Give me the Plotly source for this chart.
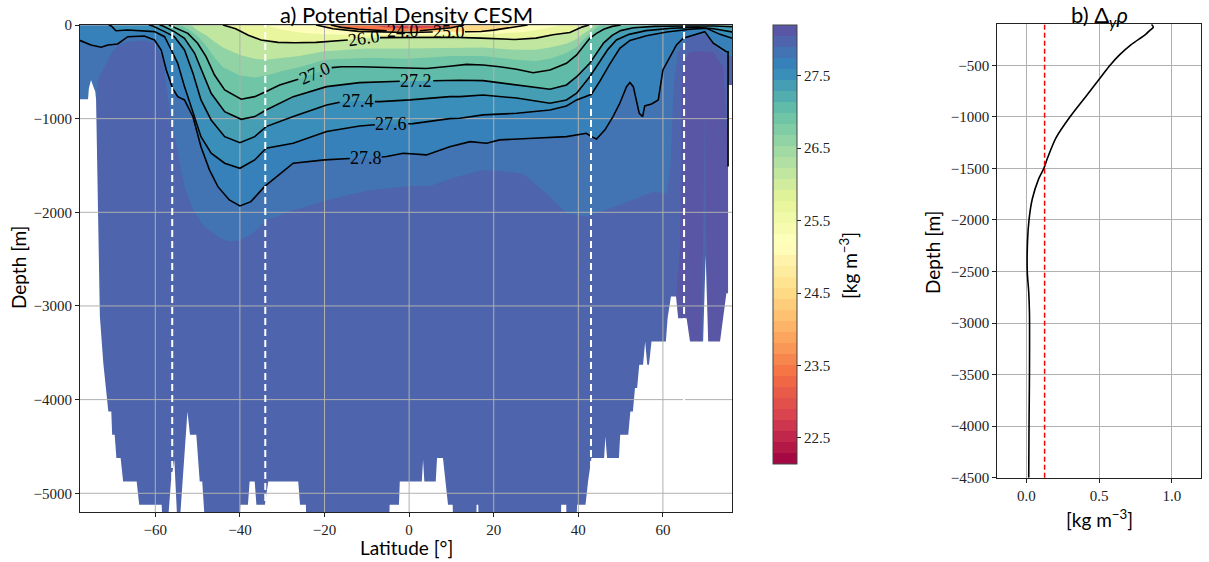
import plotly.graph_objects as go
import plotly.colors as pc

W, H = 1209, 562
SERIF = "Liberation Serif"
SANS = "Lato"
INK = "#222222"
GRID = "#b0b0b0"

# ---------------------------------------------------------------- axes limits
LAT_MIN, LAT_MAX = -77.8, 76.4
DEPTH_MIN, DEPTH_MAX = -5200, 0
LAT_TICKS = [-60, -40, -20, 0, 20, 40, 60]
DEPTH_TICKS = [0, -1000, -2000, -3000, -4000, -5000]

# colour levels of the filled density section
CB_MIN, CB_MAX, N_BANDS = 22.14, 28.2, 40
CB_TICKS = [22.5, 23.5, 24.5, 25.5, 26.5, 27.5]

# ------------------------------------------------ isopycnal depths (lat, m)
SIG_230 = [(-79, 0), (-9, 0), (-6, -25), (-2, -35), (3, -35), (7, -25), (10, 0), (77, 0)]
SIG_240 = [(-79, 0), (-18.5, 0), (-16, -25), (-12, -45), (-8, -55), (-5.3, -62), (-1.5, -64),
           (2.5, -62), (6, -50), (10, -30), (13, 0), (77, 0)]
SIG_250 = [(-79, 0), (-22, 0), (-18, -40), (-12, -68), (-5, -78), (0, -80), (5.6, -75), (9.4, -72),
           (13.2, -72), (17, -70), (20, -55), (24, -25), (28, 0), (77, 0)]
SIG_255 = [(-79, 0), (-34, 0), (-30, -50), (-25, -85), (-20, -100), (-10, -110), (0, -105),
           (10, -100), (20, -95), (27, -75), (32, -40), (36, 0), (77, 0)]
SIG_260 = [(-79, 0), (-44, 0), (-41, -40), (-38, -110), (-35, -160), (-31, -185), (-27, -190),
           (-22, -185), (-17, -170), (-14.5, -160), (-10.7, -142), (-6.9, -135), (-3, -135),
           (0, -135), (5, -133), (10, -130), (17, -140), (25, -155), (30, -140), (34, -105),
           (38, -80), (41, -20), (42.5, 0), (77, 0)]
SIG_264 = [(-79, 0), (-51.5, 0), (-50, -60), (-48, -110), (-46, -180), (-44, -240), (-40, -320),
           (-36.5, -360), (-33.8, -370), (-30, -350), (-26, -330), (-20, -280), (-10, -250),
           (0, -250), (10, -240), (17.5, -240), (25, -265), (30, -265), (33.3, -240), (37.2, -200),
           (39.6, -150), (41.1, -95), (42.7, -50), (44, 0), (77, 0)]
SIG_267 = [(-79, 0), (-54, 0), (-52, -50), (-50, -120), (-48, -220), (-46, -350), (-44, -450),
           (-40, -540), (-36.5, -560), (-33.8, -540), (-30, -490), (-26, -450), (-20, -370),
           (-10, -350), (0, -360), (10, -330), (17.5, -330), (25, -370), (30, -385), (33.3, -360),
           (37.2, -300), (39.6, -235), (41.1, -165), (42.7, -95), (44.3, -30), (45.3, 0), (77, 0)]
SIG_270 = [(-79, 0), (-56.8, 0), (-55.5, -25), (-52.3, -89), (-50.0, -195), (-48.0, -338),
           (-46.0, -534), (-43.6, -694), (-39.7, -793), (-36.5, -765), (-33.8, -711),
           (-30.6, -640), (-26.2, -580), (-22.2, -516), (-18.3, -455), (-16, -445), (-11.7, -445),
           (-3.8, -455), (4.1, -465), (9.6, -440), (13.6, -420), (17.5, -427), (21.4, -445),
           (25.4, -473), (29.3, -509), (33.3, -480), (37.2, -409), (39.6, -320), (41.1, -231),
           (42.7, -142), (44.3, -89), (46.0, -45), (48.0, -15), (50.0, 0), (77, 0)]
SIG_272 = [(-79, 0), (-59, 0), (-58.2, -11), (-55.5, -71), (-53.1, -142), (-50.7, -302),
           (-48.8, -516), (-46.8, -729), (-43.6, -925), (-39.7, -1007), (-36.5, -978),
           (-33.8, -907), (-27.4, -765), (-19.5, -658), (-11.7, -615), (-3.8, -605), (-2.2, -600),
           (1.7, -598), (5.7, -596), (9.6, -590), (12, -590), (17.5, -594), (25.4, -640),
           (33.3, -686), (37.2, -640), (39.6, -552), (42.7, -409), (44.3, -302), (46, -190),
           (48, -110), (50, -60), (53, -30), (58, -15), (65, -10), (72, -10), (77, -20)]
SIG_274 = [(-79, 0), (-61.5, 0), (-60.6, -11), (-57.8, -71), (-55.5, -125), (-53.1, -267),
           (-51.1, -516), (-49.2, -800), (-46.8, -1014), (-43.6, -1192), (-40.0, -1256),
           (-36.5, -1192), (-33.8, -1085), (-27.4, -978), (-19.5, -854), (-16.4, -825),
           (-12.2, -811), (-8.1, -818), (-6.9, -818), (0.2, -800), (9.6, -765), (12, -765),
           (17.5, -747), (25.4, -780), (33.3, -836), (37.2, -800), (39.6, -729), (42.7, -552),
           (45, -400), (47, -260), (49, -160), (52, -100), (56, -60), (62, -35), (68, -25),
           (72, -40), (77, -80)]
SIG_276 = [(-79, 0), (-71, 0), (-70.4, -11), (-69.3, -61), (-66.5, -53), (-60.2, -71),
           (-57.8, -125), (-56.2, -267), (-54.7, -409), (-53.1, -658), (-51.1, -943),
           (-49.2, -1192), (-46.8, -1369), (-43.6, -1476), (-40.0, -1530), (-36.5, -1441),
           (-33.8, -1316), (-27.4, -1263), (-19.5, -1138), (-11.7, -1078), (-8.1, -1065),
           (-4.2, -1057), (-0.2, -1055), (0.9, -1053), (9.6, -1000), (12, -995), (17.5, -960),
           (25.4, -943), (33.3, -907), (37.2, -864), (39.6, -800), (43.1, -740), (45.1, -600),
           (47.4, -420), (49.8, -250), (52.2, -165), (56.1, -115), (60.9, -75), (66.4, -45),
           (70.3, -35), (73.5, -100), (77, -150)]
SIG_278 = [(-79, -160), (-77.7, -167), (-75.2, -213), (-72.8, -238), (-71.2, -213), (-68.9, -203),
           (-66.5, -125), (-62.6, -117), (-60.2, -160), (-58.6, -267), (-57.4, -480),
           (-55.9, -676), (-54.7, -765), (-53.1, -800), (-51.1, -979), (-49.2, -1299),
           (-47.2, -1547), (-45.2, -1726), (-42.5, -1868), (-40.0, -1932), (-37.4, -1886),
           (-34.2, -1726), (-27.4, -1476), (-20, -1440), (-14.0, -1425), (-10.3, -1420),
           (-6.5, -1410), (-5.3, -1405), (-1.4, -1370), (4.1, -1387), (9.6, -1299), (14.4, -1245),
           (18.3, -1263), (21.4, -1227), (29.3, -1209), (37.2, -1192), (41.9, -1156),
           (43.1, -1192), (44.3, -1217), (46.3, -1120), (48.2, -978), (49.8, -836), (51.4, -658),
           (52.2, -615), (53.0, -658), (53.8, -836), (54.4, -943), (55.2, -978), (55.7, -864),
           (57.3, -843), (58.9, -800), (60.0, -480), (61.6, -338), (63.2, -213), (64.8, -142),
           (67.1, -107), (69.9, -71), (71.9, -195), (75.0, -285), (75.4, -285), (75.4, -1512)]
SIG_279 = [(-79, -800), (-74.0, -793), (-73.6, -587), (-72.4, -480), (-70.4, -302), (-68.9, -224),
           (-66.5, -178), (-62.6, -167), (-60.2, -189), (-58.2, -374), (-57.4, -658),
           (-56.2, -1014), (-54.7, -1369), (-53.1, -1726), (-51.1, -1974), (-48.4, -2152),
           (-45.2, -2259), (-42.9, -2312), (-40, -2300), (-36.9, -2223), (-33.7, -2081),
           (-28, -1990), (-20, -1880), (-10, -1770), (0, -1720), (5, -1720), (10, -1640),
           (17, -1550), (22, -1560), (27, -1590), (32.5, -1800), (37.2, -2010), (42, -2045),
           (46.7, -1974), (52.2, -1880), (57.7, -1780), (60.9, -1800), (61.8, -1500), (62.5, -700),
           (63.5, -300), (66, -140), (70, -100), (73, -260), (75.4, -330), (77, -330)]
SIG_2805 = [(60.5, -5300), (61.5, -3400), (62.5, -3000), (63.2, -2860), (64.0, -2400),
            (64.3, -1500), (64.3, -700), (64.8, -420), (66.0, -300), (68.0, -280), (71.9, -290),
            (74.2, -445), (75.0, -979), (75.4, -1600), (77, -1600)]
# lighter tongue reaching up inside the densest column (closed outline)
SIG_2805_TONGUE = [(69.1, -3400), (69.4, -2400), (69.9, -900), (70.3, -2400), (70.7, -3400)]

# sea floor along the section (lat, m)
BOTTOM = [(-79.0, -793), (-75.9, -793), (-75.7, -676), (-75.2, -587), (-74.5, -676), (-74.2, -711),
          (-74.0, -793), (-73.7, -1547), (-73.5, -2401), (-73.1, -3113), (-72.3, -3607),
          (-71.5, -4002), (-71.1, -4127), (-70.4, -4127), (-70.2, -4376), (-69.6, -4376),
          (-69.2, -4624), (-68.2, -4624), (-67.6, -4874), (-64.4, -4874), (-63.8, -5123),
          (-58.5, -5123), (-58.3, -5300), (-57.0, -5300), (-56.3, -4874), (-55.5, -4643),
          (-54.8, -5300), (-54.2, -5300), (-52.4, -4127), (-51.8, -4376), (-50.3, -4376),
          (-49.5, -4874), (-48.9, -4874), (-48.3, -5300), (-40.1, -5300), (-39.9, -5123),
          (-38.1, -5123), (-37.7, -4874), (-36.5, -4874), (-36.1, -5123), (-34.1, -5123),
          (-33.3, -4874), (-26.2, -4874), (-25.8, -5123), (-24.4, -5123), (-24.3, -5300),
          (-4.7, -5300), (-4.6, -5123), (-2.4, -5123), (-2.2, -4874), (3.0, -4874), (3.3, -4643),
          (3.6, -4874), (6.3, -4874), (6.6, -4624), (8.0, -4624), (8.6, -4874), (9.2, -5123),
          (10.3, -5123), (10.4, -5300), (15.9, -5300), (15.95, -5123), (16.35, -5123),
          (16.4, -5300), (35.9, -5300), (35.95, -5123), (37.15, -5123), (37.2, -5300),
          (39.6, -5300), (39.7, -5123), (41.7, -5123), (42.3, -4874), (43.1, -4624),
          (46.1, -4624), (46.4, -4393), (46.8, -4624), (49.6, -4624), (49.9, -4376),
          (51.8, -4376), (52.3, -4127), (52.9, -4127), (53.4, -3877), (53.9, -3877),
          (54.4, -3628), (55.3, -3628), (55.8, -3380), (56.3, -3628), (56.7, -3628),
          (57.3, -3380), (60.7, -3380), (61.1, -3131), (61.9, -2900), (63.1, -2900),
          (63.6, -3131), (65.6, -3131), (66.4, -3380), (69.5, -3380), (70.1, -2455),
          (70.7, -3380), (73.5, -3380), (75.0, -2863), (75.4, -2863), (75.4, -640), (77.0, -640)]

# filled layers: lower bound of each density class and its boundary
LAYERS = [(23.0, SIG_230), (24.0, SIG_240), (25.0, SIG_250), (25.5, SIG_255), (26.0, SIG_260),
          (26.4, SIG_264), (26.7, SIG_267), (27.0, SIG_270), (27.2, SIG_272), (27.4, SIG_274),
          (27.6, SIG_276), (27.8, SIG_278), (27.9, SIG_279), (28.05, SIG_2805)]
SURFACE_CLASS = 22.8
TONGUE_CLASS = 27.975

# labelled contours: level, profile, label lat, label depth, gap (lat), text angle
CONTOURS = [(24.0, SIG_240, -1.5, -64, (-5.3, 2.5), 0),
            (25.0, SIG_250, 9.4, -72, (5.6, 13.2), 0),
            (26.0, SIG_260, -10.7, -142, (-14.5, -6.9), -8),
            (27.0, SIG_270, -22.2, -516, (-26.2, -18.3), -24),
            (27.2, SIG_272, 1.7, -598, (-2.2, 5.7), 0),
            (27.4, SIG_274, -12.2, -811, (-16.4, -8.1), 0),
            (27.6, SIG_276, -4.2, -1057, (-8.1, -0.2), 0),
            (27.8, SIG_278, -10.3, -1420, (-14.0, -6.5), 0)]

# section boundaries
SECTION_LATS = [-56, -34, 43, 65]

# ------------------------------------------------ panel b: meridional density difference
DRHO_DEPTH = [-105, -130, -160, -200, -300, -400, -500, -600, -800, -1000, -1200, -1400, -1500,
              -1600, -1800, -2000, -2200, -2500, -2700, -2900, -3500, -4000, -4500]
DRHO = [0.86, 0.872, 0.85, 0.82, 0.72, 0.64, 0.575, 0.52, 0.41, 0.30, 0.205, 0.145, 0.12,
        0.085, 0.04, 0.018, 0.008, 0.006, 0.016, 0.021, 0.021, 0.018, 0.016]
DRHO_THRESHOLD = 0.125
B_X_RANGE = [-0.2, 1.2]
B_Y_RANGE = [-4500, -100]
B_X_TICKS = [0.0, 0.5, 1.0]
B_Y_TICKS = [-500, -1000, -1500, -2000, -2500, -3000, -3500, -4000, -4500]


def band_color(value):
    idx = int((value - CB_MIN) / (CB_MAX - CB_MIN) * N_BANDS)
    idx = min(max(idx, 0), N_BANDS - 1)
    return pc.sample_colorscale(pc.diverging.Spectral, [(idx + 0.5) / N_BANDS])[0]


def stepped_scale():
    cols = pc.sample_colorscale(pc.diverging.Spectral, [(i + 0.5) / N_BANDS for i in range(N_BANDS)])
    scale = []
    for i, c in enumerate(cols):
        scale.append([i / N_BANDS, c])
        scale.append([(i + 1) / N_BANDS, c])
    return scale


def fmt(v, nd=0):
    s = f"{abs(v):.{nd}f}"
    return ("\u2212" + s) if v < 0 else s


def polygon(x, y, color):
    return go.Scatter(x=x, y=y, fill="toself", fillcolor=color, mode="lines",
                      line=dict(width=0), hoverinfo="skip", showlegend=False)


fig = go.Figure()

# background class (lightest water) over the whole section
fig.add_trace(polygon([LAT_MIN - 2, LAT_MAX + 2, LAT_MAX + 2, LAT_MIN - 2],
                      [DEPTH_MAX + 50, DEPTH_MAX + 50, DEPTH_MIN - 200, DEPTH_MIN - 200],
                      band_color(SURFACE_CLASS)))

# each denser class fills everything below its isopycnal
for i, (level, prof) in enumerate(LAYERS):
    upper = LAYERS[i + 1][0] if i + 1 < len(LAYERS) else CB_MAX
    lats = [p[0] for p in prof]
    deps = [p[1] for p in prof]
    fig.add_trace(polygon(lats + [lats[-1], lats[0]], deps + [DEPTH_MIN - 200, DEPTH_MIN - 200],
                          band_color(0.5 * (level + upper))))

fig.add_trace(polygon([p[0] for p in SIG_2805_TONGUE], [p[1] for p in SIG_2805_TONGUE],
                      band_color(TONGUE_CLASS)))

# land below the sea floor
b_lat = [p[0] for p in BOTTOM]
b_dep = [p[1] for p in BOTTOM]
fig.add_trace(polygon(b_lat + [b_lat[-1], b_lat[0]], b_dep + [DEPTH_MIN - 300, DEPTH_MIN - 300],
                      "white"))

# grid over the section
gx, gy = [], []
for t in LAT_TICKS:
    gx += [t, t, None]
    gy += [DEPTH_MIN, DEPTH_MAX, None]
for t in DEPTH_TICKS:
    gx += [LAT_MIN, LAT_MAX, None]
    gy += [t, t, None]
fig.add_trace(go.Scatter(x=gx, y=gy, mode="lines", line=dict(color=GRID, width=1),
                         hoverinfo="skip", showlegend=False))

# labelled isopycnals, broken where the label sits
for level, prof, llat, ldep, (g0, g1), ang in CONTOURS:
    n = len(prof)
    keep = [p for k, p in enumerate(prof)
            if p[1] < 0 or (k > 0 and prof[k - 1][1] < 0) or (k < n - 1 and prof[k + 1][1] < 0)]
    xs, ys = [], []
    for a, d in keep:
        if a <= g0:
            xs.append(a); ys.append(d)
    xs.append(None); ys.append(None)
    for a, d in keep:
        if a >= g1:
            xs.append(a); ys.append(d)
    fig.add_trace(go.Scatter(x=xs, y=ys, mode="lines", line=dict(color="black", width=1.6),
                             hoverinfo="skip", showlegend=False))
    fig.add_annotation(x=llat, y=ldep, xref="x", yref="y", text=f"{level:.1f}", showarrow=False,
                       textangle=ang, borderpad=0,
                       font=dict(family=SERIF, size=18, color="black"))

# section boundaries
for lat in SECTION_LATS:
    fig.add_shape(type="line", xref="x", yref="y domain", x0=lat, x1=lat, y0=0, y1=1,
                  line=dict(color="white", width=2, dash="7px,4px"), layer="above")

# colour bar
fig.add_trace(go.Scatter(
    x=[None], y=[None], mode="markers", hoverinfo="skip", showlegend=False,
    marker=dict(color=[CB_MIN], colorscale=stepped_scale(), cmin=CB_MIN, cmax=CB_MAX,
                showscale=True,
                colorbar=dict(x=773 / W, xanchor="left", y=1 - 25 / H, yanchor="top",
                              lenmode="fraction", len=439 / H, thicknessmode="pixels",
                              thickness=24, xpad=0, ypad=0, outlinewidth=1, outlinecolor="#444",
                              tickvals=CB_TICKS, ticktext=[f"{v:.1f}" for v in CB_TICKS],
                              ticks="outside", ticklen=4, tickcolor=INK,
                              tickfont=dict(family=SERIF, size=15, color=INK)))))

# panel b
fig.add_trace(go.Scatter(x=DRHO, y=DRHO_DEPTH, mode="lines",
                         line=dict(color="black", width=1.6, shape="spline", smoothing=0.8),
                         xaxis="x2", yaxis="y2", hoverinfo="skip", showlegend=False))
fig.add_shape(type="line", xref="x2", yref="y2 domain", x0=DRHO_THRESHOLD, x1=DRHO_THRESHOLD,
              y0=0, y1=1, line=dict(color="red", width=1.5, dash="5px,3px"), layer="above")

axis_common = dict(showline=True, mirror=True, linecolor=INK, linewidth=1, ticks="outside",
                   ticklen=4, tickcolor=INK, tickfont=dict(family=SERIF, size=15, color=INK),
                   zeroline=False, layer="above traces", automargin=False)

fig.update_layout(
    width=W, height=H, autosize=False, margin=dict(l=0, r=0, t=0, b=0, pad=0, autoexpand=False),
    paper_bgcolor="white", plot_bgcolor="white", showlegend=False,
    xaxis=dict(domain=[80 / W, 732.3 / W], range=[LAT_MIN, LAT_MAX], anchor="y",
               tickvals=LAT_TICKS, ticktext=[fmt(v) for v in LAT_TICKS], showgrid=False,
               **axis_common),
    yaxis=dict(domain=[1 - 512 / H, 1 - 25 / H], range=[DEPTH_MIN, DEPTH_MAX], anchor="x",
               tickvals=DEPTH_TICKS, ticktext=[fmt(v) for v in DEPTH_TICKS], showgrid=False,
               **axis_common),
    xaxis2=dict(domain=[997.3 / W, 1201 / W], range=B_X_RANGE, anchor="y2",
                tickvals=B_X_TICKS, ticktext=[f"{v:.1f}" for v in B_X_TICKS],
                showgrid=True, gridcolor=GRID, gridwidth=1, **axis_common),
    yaxis2=dict(domain=[1 - 477.7 / H, 1 - 24 / H], range=B_Y_RANGE, anchor="x2",
                tickvals=B_Y_TICKS, ticktext=[fmt(v) for v in B_Y_TICKS],
                showgrid=True, gridcolor=GRID, gridwidth=1, **axis_common),
)


def paper_text(text, px, py, size, angle=0, yanchor="middle"):
    fig.add_annotation(x=px / W, y=1 - py / H, xref="paper", yref="paper", text=text,
                       showarrow=False, textangle=angle, xanchor="center", yanchor=yanchor,
                       borderpad=0, font=dict(family=SANS, size=size, color="black"))


paper_text("a) Potential Density CESM", 406, 0, 22, yanchor="top")
paper_text("b) \u0394<sub><i>y</i></sub><i>\u03c1</i>", 1099, 0, 22, yanchor="top")
paper_text("Depth [m]", 18, 268, 19, -90)
paper_text("Latitude [\u00b0]", 406, 547, 19)
paper_text("Depth [m]", 933, 253, 19, -90)
paper_text("[kg m<sup>\u22123</sup>]", 1099, 518, 19)
paper_text("[kg m<sup>\u22123</sup>]", 849, 266, 19, -90)

# the figure is sized in page pixels, so the page itself carries no margin
fig.write_html("out.html",
               post_script="document.body.style.margin='0';document.body.style.overflow='hidden';")
